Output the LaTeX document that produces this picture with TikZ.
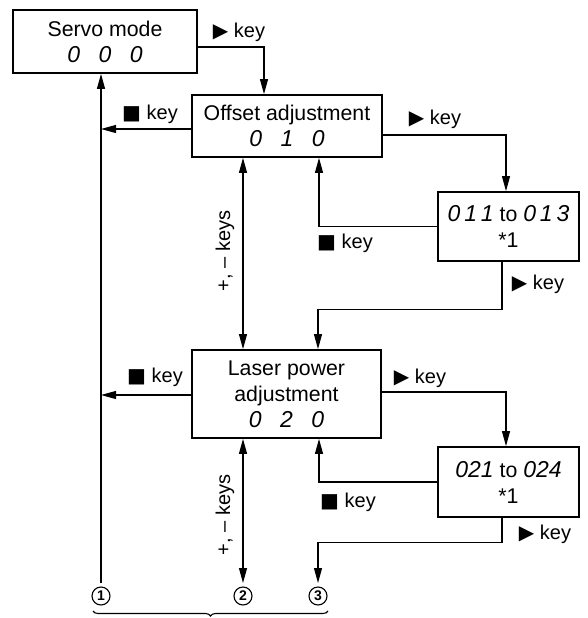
\documentclass[tikz,border=0pt]{standalone}
\usepackage{fontspec}
\setmainfont{Liberation Sans}
\newfontfamily\symfont{DejaVu Sans}
\usetikzlibrary{arrows.meta,positioning,decorations.pathreplacing}
\newcommand\segs[1]{{\fontsize{23}{26}\selectfont\itshape #1}}
\newcommand\play{{\symfont\char"25B6}}
\newcommand\stopkey{{\symfont\char"25A0}}

\begin{document}
\begin{tikzpicture}[x=1pt,y=-1pt,
  b/.style={draw,line width=1.8pt,align=center,inner sep=0pt,
    font=\fontsize{21.3}{26}\selectfont},
  a/.style={-{Triangle[length=15pt,width=8pt]},line width=1.1pt},
  aa/.style={{Triangle[length=15pt,width=8pt]}-{Triangle[length=15pt,width=8pt]},
    line width=1.1pt},
  k/.style={font=\fontsize{20}{24}\selectfont,inner sep=0pt},
  c/.style={circle,draw,line width=1.1pt,minimum size=18pt,inner sep=0pt,
    outer sep=4pt,font=\fontsize{14}{14}\selectfont\bfseries}
]
\useasboundingbox (0,0) rectangle (587,618);

\node[b,minimum width=184pt,minimum height=63pt] (servo) at (105,41.5)
  {Servo mode\\\segs{0\hspace{0.8em}0\hspace{0.8em}0}};
\node[b,minimum width=190pt,minimum height=62pt] (offset) at (287,126)
  {Offset adjustment\\\segs{0\hspace{0.8em}1\hspace{0.8em}0}};
\node[b,minimum width=141pt,minimum height=69pt] (sub1) at (508.5,226.5)
  {\segs{0\,1\,1} to \segs{0\,1\,3}\\*1};
\node[b,minimum width=189pt,minimum height=88pt] (laser) at (286.5,394)
  {Laser power\\adjustment\\\segs{0\hspace{0.8em}2\hspace{0.8em}0}};
\node[b,minimum width=141pt,minimum height=70pt] (sub2) at (508.5,482)
  {\segs{021} to \segs{024}\\*1};

\node[c] (c1) at (101,596) {1};
\node[c] (c2) at (243,596) {2};
\node[c] (c3) at (318,596) {3};

\coordinate (offl) at ([yshift=-3pt]offset.west);
\coordinate (lasl) at ([yshift=-1pt]laser.west);

% forward with the play key
\draw[a] ([yshift=-5.5pt]servo.east) -| ([xshift=-23pt]offset.north);
\draw[a] ([yshift=-9pt]offset.east) -| ([xshift=-2.5pt]sub1.north);
\draw[a] ([xshift=-6.5pt]sub1.south) -- ++(0,48) -| ([xshift=31.5pt]laser.north);
\draw[a] ([yshift=2pt]laser.east) -| ([xshift=-2.5pt]sub2.north);
\draw[a] ([xshift=-6.5pt]sub2.south) -- ++(0,25) -| (c3.north);

% back with the stop key
\draw[a] (sub1.west) -| ([xshift=32pt]offset.south);
\draw[a] (sub2.west) -| ([xshift=32.5pt]laser.south);
\draw[a] (offl) -- (offl -| c1);
\draw[a] (lasl) -- (lasl -| c1);
\draw[a] (c1.north) -- (c1.north |- servo.south);

% +/- keys
\draw[aa] ([xshift=-44pt]offset.south) -- ([xshift=-43.5pt]laser.north);
\draw[aa] ([xshift=-43.5pt]laser.south) -- (c2.north);

\node[k] (l1) at (239,32) {\play\ key};
\node[k] (l2) at (150,114) {\stopkey\ key};
\node[k] (l3) at (435,119) {\play\ key};
\node[k] (l4) at (345,243) {\stopkey\ key};
\node[k] (l5) at (538,284) {\play\ key};
\node[k] (l6) at (155,377) {\stopkey\ key};
\node[k] (l7) at (420,378) {\play\ key};
\node[k] (l8) at (348,502) {\stopkey\ key};
\node[k] (l9) at (545,534) {\play\ key};
\node[k,rotate=90] (pm1) at (225,251) {+, -- keys};
\node[k,rotate=90] (pm2) at (225,515) {+, -- keys};

\draw[line width=1.1pt,decorate,decoration={brace,mirror,amplitude=5pt}]
  (93,611) -- (328,611);
\end{tikzpicture}
\end{document}
